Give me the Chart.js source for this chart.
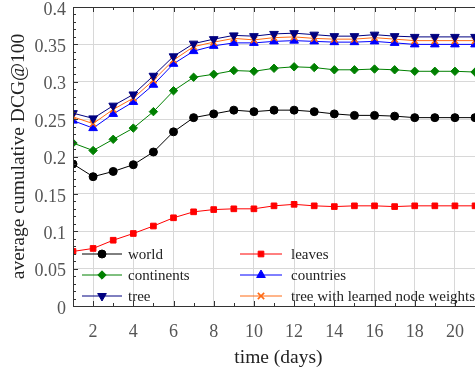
<!DOCTYPE html>
<html>
<head>
<meta charset="utf-8">
<script src="https://cdn.jsdelivr.net/npm/chart.js@4.4.0/dist/chart.umd.min.js"></script>
<style>
  html, body { margin: 0; padding: 0; background: #fff; overflow: hidden; }
</style>
</head>
<body>
<!-- the original figure is cut off on the right, so the canvas runs a bit past the window -->
<canvas id="chart" width="490" height="375"></canvas>
<script>
// data
const days = [1, 2, 3, 4, 5, 6, 7, 8, 9, 10, 11, 12, 13, 14, 15, 16, 17, 18, 19, 20, 21];
const world = [0.190, 0.173, 0.180, 0.189, 0.206, 0.233, 0.252, 0.257, 0.262, 0.260, 0.262, 0.262, 0.260, 0.257, 0.255, 0.255, 0.254, 0.252, 0.252, 0.252, 0.252];
const leaves = [0.073, 0.077, 0.088, 0.097, 0.107, 0.118, 0.126, 0.129, 0.130, 0.130, 0.134, 0.136, 0.134, 0.133, 0.134, 0.134, 0.133, 0.134, 0.134, 0.134, 0.134];
const continents = [0.218, 0.208, 0.223, 0.238, 0.260, 0.288, 0.306, 0.310, 0.315, 0.314, 0.318, 0.320, 0.319, 0.316, 0.316, 0.317, 0.316, 0.314, 0.314, 0.314, 0.313];
const countries = [0.248, 0.238, 0.257, 0.273, 0.296, 0.324, 0.341, 0.348, 0.352, 0.352, 0.354, 0.355, 0.354, 0.353, 0.353, 0.354, 0.352, 0.350, 0.350, 0.350, 0.350];
const tree = [0.258, 0.251, 0.268, 0.283, 0.308, 0.334, 0.351, 0.357, 0.362, 0.361, 0.364, 0.365, 0.363, 0.361, 0.361, 0.363, 0.361, 0.360, 0.360, 0.360, 0.360];
const learned = [0.253, 0.244, 0.263, 0.278, 0.302, 0.329, 0.347, 0.353, 0.358, 0.356, 0.359, 0.360, 0.358, 0.357, 0.357, 0.359, 0.357, 0.355, 0.355, 0.355, 0.355];
const xTicks = [2, 4, 6, 8, 10, 12, 14, 16, 18, 20];

const SERIF = "'Liberation Serif', 'DejaVu Serif', serif";

function pts(arr) {
    return days.map((d, i) => ({ x: d, y: arr[i] }));
}

function series(label, arr, color, style, radius, rotation, order) {
    return {
        label: label,
        data: pts(arr),
        borderColor: color,
        backgroundColor: color,
        borderWidth: 1,
        pointStyle: style,
        pointRadius: radius,
        pointRotation: rotation || 0,
        pointBorderWidth: style === 'crossRot' ? 1.6 : 1,
        pointBorderColor: color,
        pointBackgroundColor: color,
        order: order,
        tension: 0
    };
}

// axis frame, inward ticks and the in-plot legend
const framePlugin = {
    id: 'frame',
    afterDatasetsDraw(chart) {
        const c = chart.ctx;
        const a = chart.chartArea;
        const xs = chart.scales.x, ys = chart.scales.y;
        c.save();
        c.strokeStyle = '#333';
        c.lineWidth = 1;
        c.beginPath();
        // y ticks every 0.01, longer at 0.05
        for (let k = 0; k <= 40; k++) {
            const py = Math.round(ys.getPixelForValue(k / 100)) + 0.5;
            const len = k % 5 === 0 ? 5 : 3;
            c.moveTo(a.left, py); c.lineTo(a.left + len, py);
        }
        // x ticks every day, bottom and top
        for (let d = 1; d <= 21; d++) {
            const px = Math.round(xs.getPixelForValue(d)) + 0.5;
            const len = d % 2 === 0 ? 5 : 3;
            c.moveTo(px, a.bottom); c.lineTo(px, a.bottom - len);
            c.moveTo(px, a.top); c.lineTo(px, a.top + len);
        }
        c.stroke();
        c.beginPath();
        c.moveTo(a.left + 0.5, a.bottom); c.lineTo(a.left + 0.5, a.top + 0.5);
        c.lineTo(a.right, a.top + 0.5);
        c.moveTo(a.left, a.bottom + 0.5); c.lineTo(a.right, a.bottom + 0.5);
        c.stroke();

        // legend, two columns
        const items = chart.data.datasets.slice().sort((p, q) => p.legendIndex - q.legendIndex);
        const cols = [[82, 122, 128], [240, 282, 291]];
        const rows = [254, 275, 296];
        c.font = '15px ' + SERIF;
        c.textBaseline = 'middle';
        c.textAlign = 'left';
        items.forEach((ds, i) => {
            const col = cols[i % 2], y = rows[Math.floor(i / 2)];
            c.strokeStyle = ds.borderColor;
            c.fillStyle = ds.backgroundColor;
            c.lineWidth = 1;
            c.beginPath();
            c.moveTo(col[0], y); c.lineTo(col[1], y);
            c.stroke();
            c.lineWidth = ds.pointBorderWidth;
            Chart.helpers.drawPoint(c, {
                pointStyle: ds.pointStyle,
                radius: ds.pointRadius,
                rotation: ds.pointRotation,
                borderWidth: ds.pointBorderWidth
            }, (col[0] + col[1]) / 2, y);
            c.fillStyle = '#222';
            c.fillText(ds.label, col[2], y + 1);
        });
        c.restore();
    }
};

const datasets = [
    series('world', world, '#000000', 'circle', 4, 0, 6),
    series('leaves', leaves, '#ff0000', 'rect', 4, 0, 5),
    series('continents', continents, '#008000', 'rectRot', 4.2, 0, 4),
    series('countries', countries, '#0000ff', 'triangle', 5, 0, 3),
    series('tree', tree, '#000080', 'triangle', 5, 180, 1),
    series('tree with learned node weights', learned, '#ff6a14', 'crossRot', 4.5, 0, 2)
];
datasets.forEach((ds, i) => { ds.legendIndex = i; });

const ctx = document.getElementById('chart').getContext('2d');
new Chart(ctx, {
    type: 'line',
    data: { datasets: datasets },
    options: {
        responsive: false,
        animation: false,
        devicePixelRatio: 1,
        layout: { padding: { top: 7, right: 0, left: 0, bottom: 0 } },
        plugins: {
            legend: { display: false },
            tooltip: { enabled: false }
        },
        scales: {
            x: {
                type: 'linear',
                min: 1,
                max: 1 + (490 - 73) / 20.4,
                afterBuildTicks: (s) => { s.ticks = xTicks.map(v => ({ value: v })); },
                afterFit: (s) => { s.height = 69; },
                grid: { color: '#d8d8d8', lineWidth: 1, drawTicks: false },
                border: { display: false },
                ticks: {
                    padding: 15,
                    maxRotation: 0,
                    color: '#555',
                    font: { family: SERIF, size: 18 },
                    callback: (v) => String(v)
                },
                title: {
                    display: true,
                    text: 'time (days)',
                    color: '#222',
                    font: { family: SERIF, size: 19.5 },
                    padding: { top: 0, bottom: 5 }
                }
            },
            y: {
                min: 0,
                max: 0.4,
                afterFit: (s) => { s.width = 73; s.paddingTop = 0; s.paddingBottom = 0; },
                grid: { color: '#d8d8d8', lineWidth: 1, drawTicks: false },
                border: { display: false },
                ticks: {
                    stepSize: 0.05,
                    padding: 7,
                    labelOffset: 3,
                    color: '#555',
                    font: { family: SERIF, size: 18 },
                    callback: (v) => String(+v.toFixed(2))
                },
                title: {
                    display: true,
                    text: 'average cumulative DCG@100',
                    color: '#222',
                    font: { family: SERIF, size: 19.5 },
                    padding: { top: 7, bottom: 0 }
                }
            }
        }
    },
    plugins: [framePlugin]
});
</script>
</body>
</html>
